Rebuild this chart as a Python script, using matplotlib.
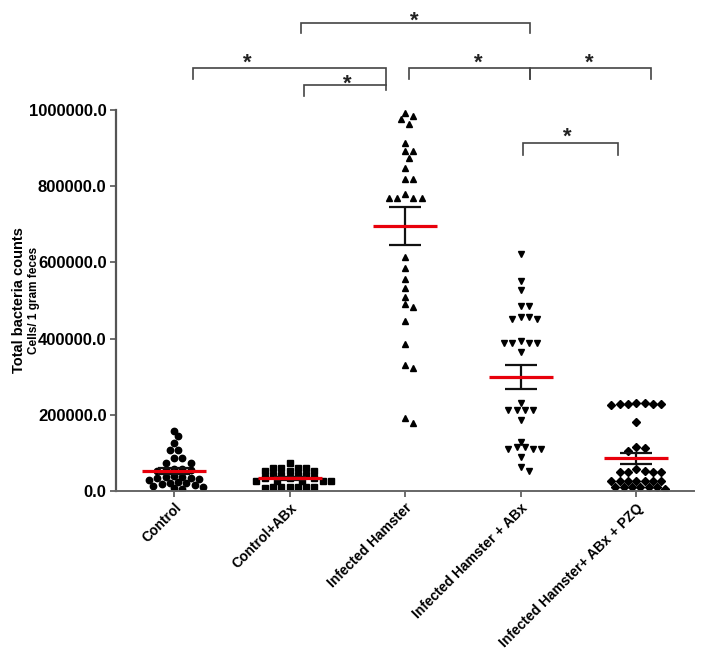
import matplotlib.pyplot as plt
from matplotlib import transforms
from matplotlib.ticker import StrMethodFormatter
import numpy as np

plt.rcParams['font.family'] = ['Liberation Sans', 'DejaVu Sans']

# ---- data (cells / 1 gram feces) ----
groups = ['Control', 'Control+ABx', 'Infected Hamster',
          'Infected Hamster + ABx', 'Infected Hamster+ ABx + PZQ']

control = [158, 144, 125, 108, 108, 87, 87, 74, 74, 58, 58, 56, 55, 52, 40,
           38, 36, 35, 33, 31, 28, 24, 22, 20, 19, 17, 12, 10, 8, 5]
control_abx = [73, 60, 60, 60, 60, 53, 53, 53, 42, 42, 42, 42, 33, 33, 33,
               25, 25, 25, 25, 25, 11, 11, 11, 11, 11, 11, 7]
infected = [993, 985, 976, 963, 913, 892, 892, 875, 847, 819, 819, 779, 768,
            768, 768, 768, 615, 585, 556, 532, 510, 491, 482, 446, 385, 331,
            324, 192, 179]
infected_abx = [622, 551, 528, 486, 486, 458, 451, 451, 458, 395, 388, 388,
                388, 388, 366, 230, 213, 213, 213, 213, 186, 129, 115, 115,
                109, 109, 109, 88, 64, 53]
infected_abx_pzq = [230, 230, 229, 229, 228, 228, 227, 180, 116, 114, 105, 57,
                    52, 51, 51, 51, 51, 27, 25, 25, 25, 25, 25, 27, 11, 11, 11,
                    11, 11, 11, 5]

# mean and SEM as shown on the chart
means = [52000, 33000, 696000, 298000, 86000]
sems = [7500, 4000, 50000, 31500, 15000]

markers = ['o', 's', '^', 'v', 'D']
msizes = [4.6, 4.4, 4.8, 4.8, 3.9]

# significance brackets: x_left, x_right, y_bar, y_left_end, y_right_end, star_x, star_y
brackets = [
    (1.10, 3.08, 1229000, 1202000, 1202000, 2.08, 1248000),
    (0.165, 1.835, 1110000, 1081000, 1053000, 0.63, 1139000),
    (1.125, 1.835, 1066000, 1037000, 1066000, 1.50, 1083000),
    (2.035, 3.08, 1110000, 1081000, 1081000, 2.63, 1139000),
    (3.08, 4.13, 1110000, 1081000, 1081000, 3.59, 1139000),
    (3.02, 3.84, 913500, 882000, 882000, 3.40, 944000),
]

series = [control, control_abx, infected, infected_abx, infected_abx_pzq]

W, H = 704, 659
fig = plt.figure(figsize=(W / 100, H / 100), dpi=100)
ax_left, ax_bottom, ax_w, ax_h = 116.25, 168, 577.75, 381
ax = fig.add_axes([ax_left / W, ax_bottom / H, ax_w / W, ax_h / H])

xlim = (-0.5, 4.5)
ylim = (0, 1000000)
xscale = ax_w / (xlim[1] - xlim[0])      # px per category unit
yscale = ax_h / (ylim[1] - ylim[0])      # px per count


def swarm_offsets(vals, step, diam):
    """beeswarm on a half-step grid (pixels), points kept diam apart"""
    vals = np.asarray(vals, dtype=float)
    order = np.argsort(vals, kind='stable')[::-1]
    placed = []
    offs = np.zeros(len(vals))
    cands = [0] + [s * j for j in range(1, 40) for s in (1, -1)]
    for i in order:
        yp = vals[i] * yscale
        xp = 0.0
        for c in cands:
            xp = c * step
            if all((xp - a) ** 2 + (yp - b) ** 2 >= diam ** 2 for a, b in placed):
                break
        placed.append((xp, yp))
        offs[i] = xp / xscale
    return offs


for i, vals in enumerate(series):
    v = np.array(vals) * 1000
    offs = swarm_offsets(v, 4.15, 6.5)
    ax.plot(i + offs, v, linestyle='none', marker=markers[i], ms=msizes[i],
            color='black', mec='black', zorder=2)
    ax.errorbar(i, means[i], yerr=sems[i], color='#111111', elinewidth=1.6,
                capsize=11.5, capthick=1.6, zorder=3)
    ax.hlines(means[i], i - 0.277, i + 0.277, color='#e8000b', lw=2.3, zorder=4)

ax.set_xlim(*xlim)
ax.set_ylim(*ylim)
ax.set_xticks(range(len(groups)))
ax.set_xticklabels(groups, rotation=45, ha='right', rotation_mode='anchor',
                   fontsize=10, fontweight='bold')
ax.set_yticks(np.arange(0, 1000001, 200000))
ax.yaxis.set_major_formatter(StrMethodFormatter('{x:.1f}'))
for lab in ax.get_yticklabels():
    lab.set_fontweight('bold')
    lab.set_fontsize(12)

for side in ['top', 'right']:
    ax.spines[side].set_visible(False)
ax.spines['left'].set_color('#555555')
ax.spines['left'].set_linewidth(1.6)
ax.spines['bottom'].set_color('#666666')
ax.spines['bottom'].set_linewidth(1.4)
ax.tick_params(axis='both', direction='out', length=4, width=1.2, color='#555555', pad=3)

# y axis titles
fig.text(19 / W, 1 - 300 / H, 'Total bacteria counts', rotation=90, ha='center',
         va='center', fontsize=10.5, fontweight='bold')
fig.text(34 / W, 1 - 300 / H, 'Cells/ 1 gram feces', rotation=90, ha='center',
         va='center', fontsize=8.5, fontweight='bold')

# significance brackets
star_tr = transforms.offset_copy(ax.transData, fig=fig, y=-6, units='dots')
for x0, x1, yb, yl, yr, sx, sy in brackets:
    ax.plot([x0, x0, x1, x1], [yl, yb, yb, yr], color='#444444', lw=1.2,
            clip_on=False, solid_joinstyle='miter')
    ax.text(sx, sy, '*', transform=star_tr, ha='center', va='center',
            fontsize=16, fontweight='bold', color='#222222', clip_on=False)

fig.savefig('out.png', dpi=100)
